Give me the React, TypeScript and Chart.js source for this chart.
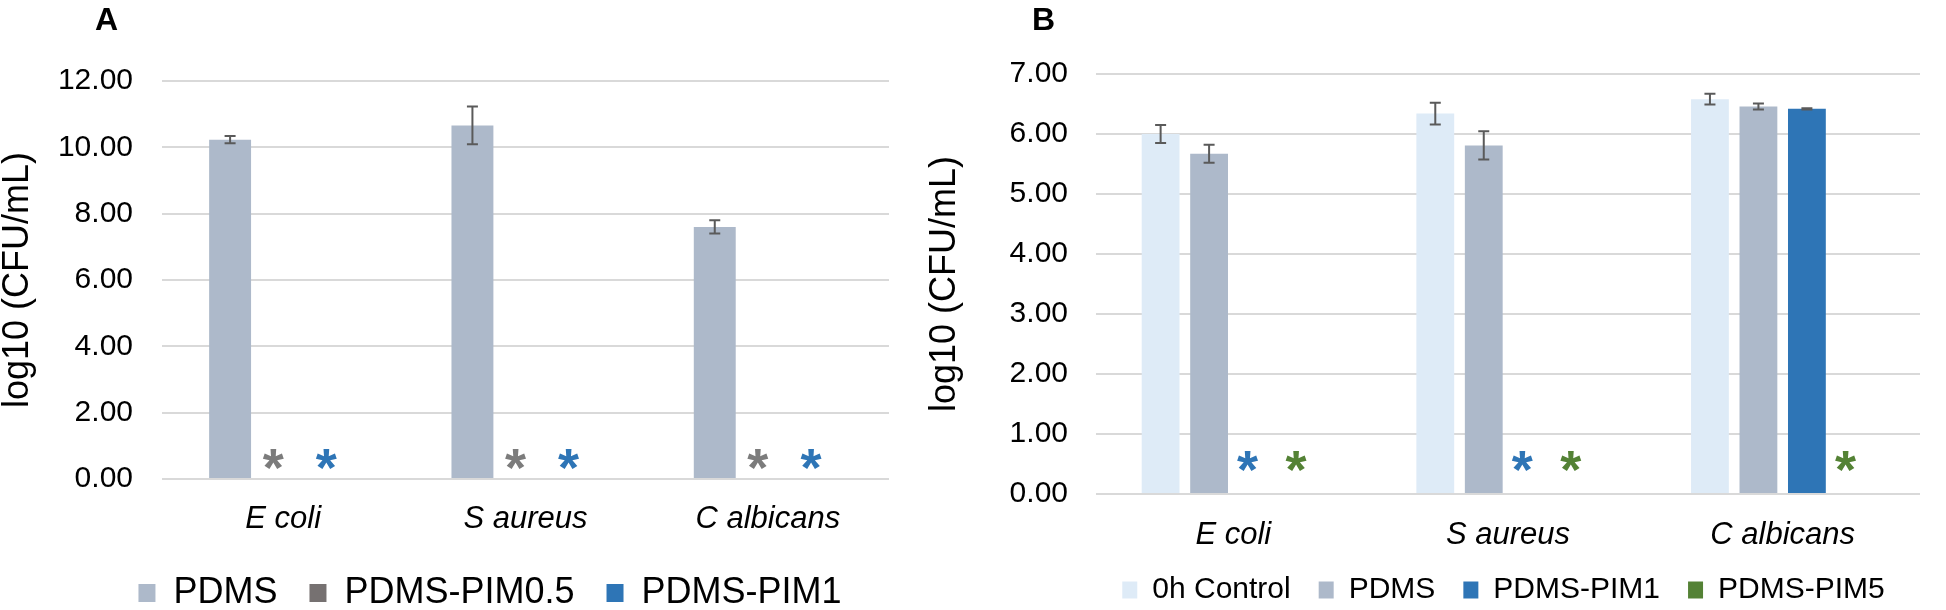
import React, { useEffect, useRef } from 'react';
import { Chart, registerables } from 'chart.js';

Chart.register(...registerables);

const FONT = "'Liberation Sans', Arial, Helvetica, sans-serif";

// ---------- shared ----------
const categories = ['E coli', 'S aureus', 'C albicans'];
const yTitle = 'log10 (CFU/mL)';

// ---------- Panel A ----------
const aNames = ['PDMS', 'PDMS-PIM0.5', 'PDMS-PIM1'];
const aPDMS = [10.23, 10.66, 7.6];
const aPDMSErr = [0.11, 0.57, 0.2];
const aPIM05 = [0, 0, 0];
const aPIM1 = [0, 0, 0];
const aPIM05Sig = [true, true, true];
const aPIM1Sig = [true, true, true];
const aTicks = [0, 2, 4, 6, 8, 10, 12];

// ---------- Panel B ----------
const bNames = ['0h Control', 'PDMS', 'PDMS-PIM1', 'PDMS-PIM5'];
const bControl = [6.0, 6.34, 6.58];
const bControlErr = [0.15, 0.18, 0.09];
const bPDMS = [5.67, 5.81, 6.46];
const bPDMSErr = [0.15, 0.235, 0.05];
const bPIM1 = [0, 0, 6.42];
const bPIM1Err = [0, 0, 0.01];
const bPIM5 = [0, 0, 0];
const bPIM1Sig = [true, true, false];
const bPIM5Sig = [true, true, true];
const bTicks = [0, 1, 2, 3, 4, 5, 6, 7];

const COLORS = {
  control: '#DEEBF7',
  pdms: '#ADB9CA',
  pim05: '#767171',
  pim1: '#2E75B6',
  pim5: '#548235',
};

const errorBarPlugin = {
  id: 'errorBars',
  afterDatasetsDraw(chart: any) {
    const { ctx } = chart;
    const ys = chart.scales.y;
    chart.data.datasets.forEach((ds: any, di: number) => {
      const errs = ds.errors;
      if (!errs) return;
      const meta = chart.getDatasetMeta(di);
      meta.data.forEach((bar: any, i: number) => {
        const e = errs[i];
        if (!e) return;
        const v = ds.data[i];
        const yt = ys.getPixelForValue(v + e);
        const yb = ys.getPixelForValue(v - e);
        const cap = 5.5;
        ctx.save();
        ctx.strokeStyle = '#5a5a5a';
        ctx.lineWidth = 2;
        ctx.beginPath();
        ctx.moveTo(bar.x, yt);
        ctx.lineTo(bar.x, yb);
        ctx.moveTo(bar.x - cap, yt);
        ctx.lineTo(bar.x + cap, yt);
        ctx.moveTo(bar.x - cap, yb);
        ctx.lineTo(bar.x + cap, yb);
        ctx.stroke();
        ctx.restore();
      });
    });
  },
};

const sigPlugin = {
  id: 'sigMarks',
  afterDatasetsDraw(chart: any, _args: any, opts: any) {
    const { ctx } = chart;
    const ys = chart.scales.y;
    const base = ys.getPixelForValue(0);
    const size = opts.size || 52;
    chart.data.datasets.forEach((ds: any, di: number) => {
      if (!ds.sig) return;
      const meta = chart.getDatasetMeta(di);
      meta.data.forEach((bar: any, i: number) => {
        if (!ds.sig[i]) return;
        ctx.save();
        ctx.font = `bold ${size}px ${FONT}`;
        ctx.fillStyle = ds.sigColor || ds.backgroundColor;
        ctx.textAlign = 'center';
        ctx.textBaseline = 'alphabetic';
        ctx.fillText('*', bar.x + (opts.dx || 0), base - opts.lift + 0.57 * size);
        ctx.restore();
      });
    });
  },
};

function makeConfig(p: any) {
  return {
    type: 'bar',
    data: { labels: categories, datasets: p.datasets },
    plugins: [errorBarPlugin, sigPlugin],
    options: {
      responsive: false,
      maintainAspectRatio: false,
      animation: false,
      events: [],
      layout: { padding: { top: p.top, left: 0, right: 0, bottom: 0 } },
      datasets: {
        bar: {
          categoryPercentage: p.catPct,
          barPercentage: p.barPct,
          borderWidth: 0,
        },
      },
      plugins: {
        tooltip: { enabled: false },
        title: { display: false },
        legend: {
          display: true,
          position: 'bottom',
          labels: {
            color: '#000',
            font: { size: p.legendSize, family: FONT },
            boxWidth: p.boxW,
            boxHeight: p.boxH,
            padding: p.legendPad,
          },
        },
        sigMarks: { size: p.sigSize, lift: p.sigLift, dx: -10 },
      },
      scales: {
        x: {
          grid: { display: false },
          border: { display: false },
          ticks: {
            color: '#000',
            padding: p.xPad,
            font: { size: 31, style: 'italic', family: FONT },
          },
          afterFit: (s: any) => {
            s.height = p.xHeight;
          },
        },
        y: {
          min: p.ticks[0],
          max: p.ticks[p.ticks.length - 1],
          afterBuildTicks: (s: any) => {
            s.ticks = p.ticks.map((v: number) => ({ value: v }));
          },
          ticks: {
            color: '#000',
            padding: p.tickPad,
            font: { size: 30, family: FONT },
            callback: (v: any) => Number(v).toFixed(2),
          },
          grid: { color: '#d9d9d9', lineWidth: 2, drawTicks: false },
          border: { display: false },
          title: {
            display: true,
            text: yTitle,
            color: '#000',
            font: { size: 36, family: FONT, lineHeight: 1 },
            padding: { top: p.titlePad, bottom: 0 },
          },
          afterFit: (s: any) => {
            s.width = p.yWidth;
          },
        },
        yR: {
          position: 'right',
          display: true,
          grid: { display: false },
          ticks: { display: false },
          border: { display: false },
          afterFit: (s: any) => {
            s.width = p.rightWidth;
          },
        },
      },
    },
  };
}

const configA = () =>
  makeConfig({
    top: 81,
    catPct: 0.657,
    barPct: 0.79,
    legendSize: 36,
    boxW: 17,
    boxH: 18,
    legendPad: 32,
    sigSize: 54,
    sigLift: 24,
    xHeight: 64,
    xPad: 14,
    ticks: aTicks,
    tickPad: 29,
    titlePad: 0,
    yWidth: 162,
    rightWidth: 91,
    datasets: [
      { label: aNames[0], data: aPDMS, errors: aPDMSErr, backgroundColor: COLORS.pdms, yAxisID: 'y' },
      { label: aNames[1], data: aPIM05, sig: aPIM05Sig, sigColor: '#7c7c7c', backgroundColor: COLORS.pim05, yAxisID: 'y' },
      { label: aNames[2], data: aPIM1, sig: aPIM1Sig, backgroundColor: COLORS.pim1, yAxisID: 'y' },
    ],
  });

const configB = () =>
  makeConfig({
    top: 74,
    catPct: 0.706,
    barPct: 0.78,
    legendSize: 30,
    boxW: 15,
    boxH: 17,
    legendPad: 28,
    sigSize: 54,
    sigLift: 37,
    xHeight: 53,
    xPad: 15,
    ticks: bTicks,
    tickPad: 28,
    titlePad: 27,
    yWidth: 196,
    rightWidth: 187,
    datasets: [
      { label: bNames[0], data: bControl, errors: bControlErr, backgroundColor: COLORS.control, yAxisID: 'y' },
      { label: bNames[1], data: bPDMS, errors: bPDMSErr, backgroundColor: COLORS.pdms, yAxisID: 'y' },
      { label: bNames[2], data: bPIM1, errors: bPIM1Err, sig: bPIM1Sig, backgroundColor: COLORS.pim1, yAxisID: 'y' },
      { label: bNames[3], data: bPIM5, sig: bPIM5Sig, backgroundColor: COLORS.pim5, yAxisID: 'y' },
    ],
  });

export default function App() {
  const refA = useRef<HTMLCanvasElement | null>(null);
  const refB = useRef<HTMLCanvasElement | null>(null);

  useEffect(() => {
    const a = new Chart(refA.current as HTMLCanvasElement, configA() as any);
    const b = new Chart(refB.current as HTMLCanvasElement, configB() as any);
    return () => {
      a.destroy();
      b.destroy();
    };
  }, []);

  const letter: React.CSSProperties = {
    position: 'absolute',
    top: 3,
    font: `bold 32px ${FONT}`,
    lineHeight: '32px',
    color: '#000',
  };

  return (
    <div
      style={{
        position: 'fixed',
        left: 0,
        top: 0,
        width: 1946,
        height: 610,
        overflow: 'hidden',
        background: '#fff',
      }}
    >
      <canvas
        ref={refA}
        width={980}
        height={621}
        style={{ position: 'absolute', left: 0, top: 0, width: 980, height: 621 }}
      />
      <canvas
        ref={refB}
        width={1207}
        height={615}
        style={{ position: 'absolute', left: 900, top: 0, width: 1207, height: 615 }}
      />
      <div style={{ ...letter, left: 95 }}>A</div>
      <div style={{ ...letter, left: 1032 }}>B</div>
    </div>
  );
}
